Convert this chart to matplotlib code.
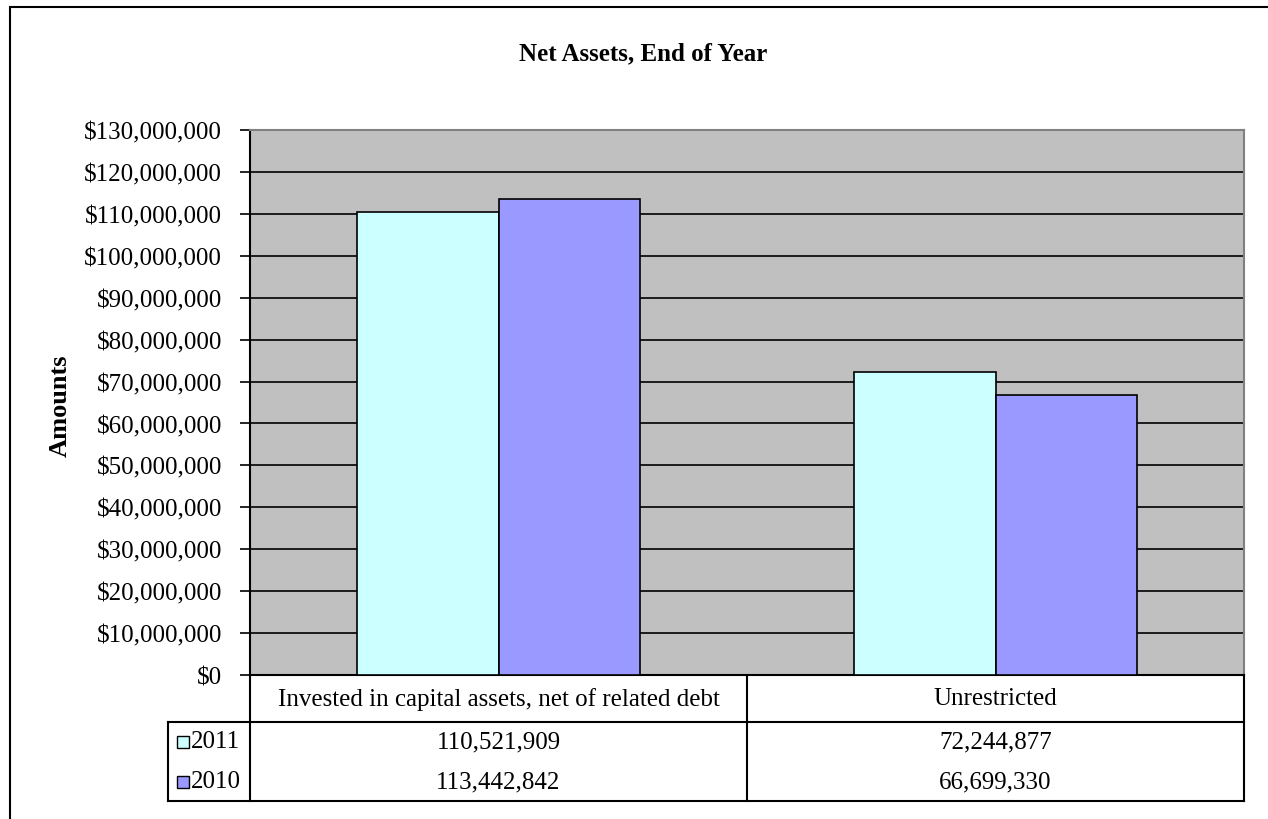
import numpy as np
import matplotlib.pyplot as plt
from matplotlib.patches import Rectangle
from matplotlib.ticker import FuncFormatter, MultipleLocator

categories = ['Invested in capital assets, net of related debt', 'Unrestricted']
years = ['2011', '2010']
values_2011 = [110521909, 72244877]
values_2010 = [113442842, 66699330]
colors = ['#CCFFFF', '#9999FF']

plt.rcParams['font.family'] = ['Liberation Serif', 'DejaVu Serif']
FS = 18

W, H = 1268, 820
fig = plt.figure(figsize=(W / 100, H / 100), dpi=100)

# outer chart frame (only top/left fall inside the image)
fig.patches.append(Rectangle((10 / W, -0.1), 1.2, (H - 8) / H + 0.1, transform=fig.transFigure,
                             fill=False, edgecolor='black', linewidth=1.5))

# plot area in pixel terms
L, R, T, B = 250, 1244, 131, 676
ax = fig.add_axes([L / W, (H - B) / H, (R - L) / W, (B - T) / H])
ax.set_facecolor('#C0C0C0')

x = np.arange(len(categories))
bw = 0.285
series = [values_2011, values_2010]
for i, vals in enumerate(series):
    ax.bar(x + (i - 0.5) * bw, vals, width=bw, color=colors[i], edgecolor='black',
           linewidth=1.2, zorder=3)

ax.set_xlim(-0.5, len(categories) - 0.5)
ax.set_ylim(0, 130000000)
ax.yaxis.set_major_locator(MultipleLocator(10000000))
ax.yaxis.set_major_formatter(FuncFormatter(lambda v, p: '${:,.0f}'.format(v)))
ax.grid(axis='y', color='black', linewidth=1.2, zorder=1)
ax.set_axisbelow(True)
ax.tick_params(axis='y', length=7, width=1.2, labelsize=FS, pad=13)
ax.set_xticks([])
for s in ['top', 'right']:
    ax.spines[s].set_color('#808080')
    ax.spines[s].set_linewidth(1.5)
ax.spines['left'].set_linewidth(1.5)
ax.spines['bottom'].set_linewidth(1.5)

fig.text(60 / W, 1 - 406 / H, 'Amounts', rotation=90, ha='center', va='center',
         fontsize=19, fontweight='bold')
fig.text(643 / W, 1 - 54 / H, 'Net Assets, End of Year', ha='center', va='center',
         fontsize=FS, fontweight='bold')

# data table beneath the plot area
TL, TB = 168, 802
tab = fig.add_axes([TL / W, (H - TB) / H, (R - TL) / W, (TB - B) / H])
tab.set_xlim(TL, R)
tab.set_ylim(TB, B)
tab.axis('off')
lw = 1.5
colw = (R - L) / len(categories)
row_h = 723 - B
tab.plot([L, L], [B, TB], color='black', lw=lw, clip_on=False)
tab.plot([R, R], [B, TB], color='black', lw=lw, clip_on=False)
tab.plot([TL, TL], [B + row_h, TB], color='black', lw=lw, clip_on=False)
tab.plot([TL, R], [B + row_h, B + row_h], color='black', lw=lw, clip_on=False)
tab.plot([TL, R], [TB, TB], color='black', lw=lw, clip_on=False)
for j in range(1, len(categories)):
    tab.plot([L + j * colw] * 2, [B, TB], color='black', lw=lw, clip_on=False)

row_y = [742, 782]
for j, cat in enumerate(categories):
    cx = L + (j + 0.5) * colw
    tab.text(cx, B + row_h / 2, cat, ha='center', va='center', fontsize=FS)
    for i, vals in enumerate(series):
        tab.text(cx, row_y[i], '{:,}'.format(vals[j]), ha='center', va='center', fontsize=FS)

for i, yr in enumerate(years):
    cy = row_y[i] + 1
    tab.add_patch(Rectangle((177, cy - 6), 12, 12, facecolor=colors[i], edgecolor='black',
                            lw=1, clip_on=False))
    tab.text(191, row_y[i], yr, ha='left', va='center', fontsize=FS)

fig.savefig('out.png', dpi=100)
